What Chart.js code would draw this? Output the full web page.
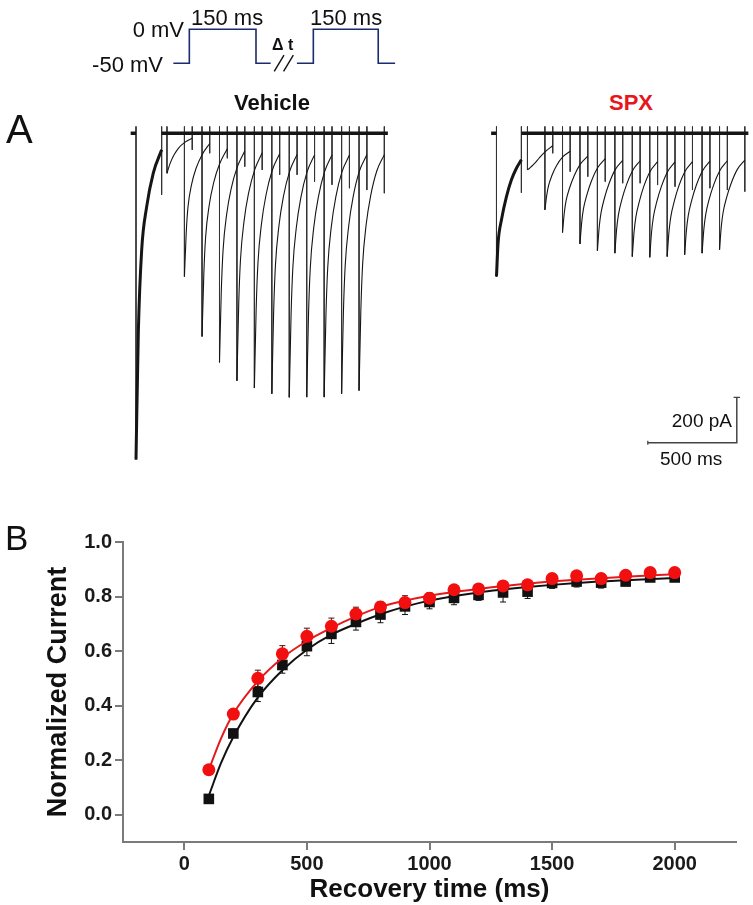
<!DOCTYPE html>
<html>
<head>
<meta charset="utf-8">
<title>Recovery from inactivation</title>
<script src="https://cdn.jsdelivr.net/npm/chart.js@4.4.1/dist/chart.umd.min.js"></script>
<style>
  body { margin: 0; background: #fff; }
  #wrap { position: relative; width: 753px; height: 905px; overflow: hidden;
          font-family: Arial, "Liberation Sans", sans-serif; color: #111; }
  canvas, .lbl { position: absolute; }
  .lbl { line-height: 1; white-space: nowrap; }
</style>
</head>
<body>
<div id="wrap">
  <canvas id="protoChart" width="240" height="65" style="left:160px;top:15px"></canvas>
  <canvas id="traceChart" width="753" height="360" style="left:0;top:115px"></canvas>
  <canvas id="recoveryChart" width="753" height="405" style="left:0;top:500px"></canvas>

  <div class="lbl" style="font-size:22px;right:569px;top:19px">0 mV</div>
  <div class="lbl" style="font-size:22px;right:590px;top:54px">-50 mV</div>
  <div class="lbl" style="font-size:22px;left:191px;top:7px">150 ms</div>
  <div class="lbl" style="font-size:22px;left:310px;top:7px">150 ms</div>
  <div class="lbl" style="font-size:16px;font-weight:bold;left:272px;top:37px">&Delta; t</div>
  <div class="lbl" style="font-size:22px;font-weight:bold;left:272px;top:92px;transform:translateX(-50%)">Vehicle</div>
  <div class="lbl" style="font-size:22px;font-weight:bold;left:631px;top:92px;transform:translateX(-50%);color:#e8151b">SPX</div>
  <div class="lbl" style="font-size:40px;left:6px;top:109px">A</div>
  <div class="lbl" style="font-size:35px;left:5px;top:520px">B</div>
  <div class="lbl" style="font-size:19px;right:21px;top:411px">200 pA</div>
  <div class="lbl" style="font-size:19px;left:660px;top:449px">500 ms</div>
</div>

<script>
// ---------- panel A: voltage protocol (schematic, ms / mV) ----------
const protoTime1 = [-36, 0, 0, 150, 150, 183];
const protoTime2 = [242, 279, 279, 425, 425, 463];
const protoVolt = [-50, -50, 0, 0, -50, -50];
const breakTime = [[191, 213], [212, 234]];
const breakVolt = [-62, -38];

// ---------- panel A: current traces (ms / pA) ----------
// onset of the test pulse in each sweep, measured from the conditioning pulse onset
const sweepOnsets = [174, 272, 371, 469, 567, 665, 763, 861, 959, 1057, 1155, 1253];
// times within a test pulse at which the current was read
const decayOffsets = [0, 10, 20, 40, 65, 100, 142];
const baselineEnd = 1415;
const transientTop = 30;

const vehPulse1Time = [0, 13, 32, 60, 97, 144];
const vehPulse1Curr = [-1437, -878, -513, -323, -175, -73];
const vehPulse1Tail = -271;
const vehDecays = [
  [-176, -150, -128, -95, -65, -40, -22],
  [-631, -440, -325, -226, -155, -93, -45],
  [-895, -620, -458, -318, -218, -132, -68],
  [-1009, -698, -516, -358, -246, -148, -78],
  [-1090, -752, -556, -387, -265, -160, -86],
  [-1122, -774, -572, -398, -273, -164, -90],
  [-1147, -792, -585, -407, -279, -168, -93],
  [-1163, -802, -593, -413, -283, -170, -95],
  [-1162, -801, -593, -412, -282, -170, -95],
  [-1162, -801, -592, -412, -282, -170, -96],
  [-1147, -791, -585, -407, -279, -167, -95],
  [-1133, -782, -578, -402, -276, -165, -94]
];
const vehTails = [-73, -88, -110, -147, -161, -183, -183, -213, -227, -242, -250, -264];

const spxShift = 2025;   // SPX traces sit to the right of the vehicle ones
const spxPulse1Time = [0, 9, 28, 56, 84, 112, 140];
const spxPulse1Curr = [-631, -484, -381, -279, -205, -154, -117];
const spxPulse1Tail = -262;
const spxDecays = [
  [-161, -155, -148, -133, -110, -81, -55],
  [-337, -275, -232, -185, -143, -104, -79],
  [-437, -350, -297, -240, -188, -136, -101],
  [-487, -390, -331, -268, -209, -151, -112],
  [-517, -414, -352, -284, -222, -160, -119],
  [-528, -422, -359, -290, -227, -164, -121],
  [-543, -434, -369, -299, -233, -168, -125],
  [-546, -437, -371, -300, -235, -169, -126],
  [-543, -434, -369, -299, -233, -168, -125],
  [-535, -428, -364, -294, -230, -166, -123],
  [-528, -422, -359, -290, -227, -164, -121],
  [-513, -410, -349, -282, -221, -159, -118]
];
const spxTails = [-88, -169, -191, -213, -220, -220, -228, -235, -250, -242, -250, -257];

// scale bar: lower-left corner (ms, pA) and lengths
const scaleBarX = 2875, scaleBarY = -1363;
const scaleBarTime = 500, scaleBarCurr = 200;

// ---------- panel B: recovery from inactivation ----------
const recoveryTimes = [100, 200, 300, 400, 500, 600, 700, 800, 900, 1000,
                       1100, 1200, 1300, 1400, 1500, 1600, 1700, 1800, 1900, 2000];
const vehicleMean = [0.058, 0.298, 0.45, 0.549, 0.618, 0.663, 0.707, 0.734, 0.764, 0.78,
                     0.795, 0.806, 0.815, 0.818, 0.85, 0.855, 0.851, 0.855, 0.87, 0.87];
const vehicleSem = [0.01, 0.015, 0.035, 0.03, 0.035, 0.035, 0.03, 0.03, 0.03, 0.025,
                    0.025, 0.02, 0.035, 0.025, 0.02, 0.02, 0.02, 0.015, 0.015, 0.015];
const spxMean = [0.165, 0.369, 0.5, 0.59, 0.654, 0.691, 0.736, 0.762, 0.778, 0.794,
                 0.825, 0.828, 0.839, 0.843, 0.866, 0.876, 0.866, 0.878, 0.888, 0.888];
const spxSem = [0.01, 0.015, 0.03, 0.03, 0.03, 0.03, 0.025, 0.02, 0.025, 0.02,
                0.015, 0.015, 0.015, 0.015, 0.015, 0.015, 0.01, 0.01, 0.01, 0.01];
const fitTimes = [100, 150, 200, 300, 400, 500, 600, 700, 800, 900, 1000, 1200, 1400, 1600, 1800, 2000];
const vehicleFit = [0.07, 0.19, 0.285, 0.43, 0.53, 0.605, 0.66, 0.70, 0.735, 0.763, 0.785, 0.815, 0.835, 0.85, 0.86, 0.868];
const spxFit = [0.165, 0.28, 0.37, 0.49, 0.575, 0.637, 0.685, 0.727, 0.762, 0.785, 0.803, 0.828, 0.848, 0.862, 0.873, 0.882];
const xTickValues = [0, 500, 1000, 1500, 2000];
const yTickValues = [0, 0.2, 0.4, 0.6, 0.8, 1.0];

// ---------- helpers ----------
const xy = (xs, ys, shift = 0) => xs.map((x, k) => ({ x: x + shift, y: ys[k] }));
const line = (data, color, width) => ({
  data, showLine: true, pointRadius: 0, borderColor: color, borderWidth: width, fill: false
});
const curve = (data, color, width) => ({ ...line(data, color, width), cubicInterpolationMode: 'monotone' });
const hiddenAxis = (min, max) => ({ type: 'linear', display: false, min, max });

function sweepSets(shift, p1Time, p1Curr, p1Tail, decays, tails) {
  const ink = '#151515';
  const sets = [];
  const p1End = p1Time[p1Time.length - 1];
  const pulseEnd = decayOffsets[decayOffsets.length - 1];
  // holding level before the conditioning pulse and the overlaid baselines after it
  sets.push(line([{ x: shift - 30, y: 0 }, { x: shift, y: 0 }], ink, 3.5));
  sets.push(line([{ x: shift + p1End, y: 0 }, { x: shift + baselineEnd, y: 0 }], ink, 3.5));
  // conditioning pulse is identical in every sweep, so it looks thick
  sets.push(curve(xy(p1Time, p1Curr, shift), ink, 3));

  // vertical strokes: onset spikes and offset transients
  const strokes = [];
  const stroke = (t, bottom) => strokes.push({ x: t, y: transientTop }, { x: t, y: bottom }, { x: t, y: null });
  stroke(shift, p1Curr[0]);
  stroke(shift + p1End, p1Tail);
  sweepOnsets.forEach((t0, k) => {
    stroke(shift + t0, decays[k][0]);
    stroke(shift + t0 + pulseEnd, tails[k]);
    sets.push(curve(xy(decayOffsets, decays[k], shift + t0), ink, 1.1));
  });
  sets.push(line(strokes, '#333', 1));
  return sets;
}

// ---------- protocol ----------
new Chart(document.getElementById('protoChart'), {
  type: 'scatter',
  data: {
    datasets: [
      line(xy(protoTime1, protoVolt), '#1c2a70', 1.6),
      line(xy(protoTime2, protoVolt), '#1c2a70', 1.6),
      line(xy(breakTime[0], breakVolt), '#111', 1.4),
      line(xy(breakTime[1], breakVolt), '#111', 1.4)
    ]
  },
  options: {
    responsive: false, animation: false, events: [],
    plugins: { legend: { display: false }, tooltip: { enabled: false } },
    scales: { x: hiddenAxis(-66, 474), y: hiddenAxis(-74.6, 21) }
  }
});

// ---------- current traces ----------
const scaleBar = [
  { x: scaleBarX, y: scaleBarY },
  { x: scaleBarX + scaleBarTime, y: scaleBarY },
  { x: scaleBarX + scaleBarTime, y: scaleBarY + scaleBarCurr }
];
const scaleBarEnds = [
  { x: scaleBarX, y: scaleBarY + 9 }, { x: scaleBarX, y: scaleBarY - 9 }, { x: scaleBarX, y: null },
  { x: scaleBarX + scaleBarTime - 18, y: scaleBarY + scaleBarCurr },
  { x: scaleBarX + scaleBarTime + 18, y: scaleBarY + scaleBarCurr }
];

new Chart(document.getElementById('traceChart'), {
  type: 'scatter',
  data: {
    datasets: [
      ...sweepSets(0, vehPulse1Time, vehPulse1Curr, vehPulse1Tail, vehDecays, vehTails),
      ...sweepSets(spxShift, spxPulse1Time, spxPulse1Curr, spxPulse1Tail, spxDecays, spxTails),
      line(scaleBar, '#444', 1.5),
      line(scaleBarEnds, '#444', 1.2)
    ]
  },
  options: {
    responsive: false, animation: false, events: [],
    plugins: { legend: { display: false }, tooltip: { enabled: false } },
    scales: { x: hiddenAxis(-764, 3466), y: hiddenAxis(-1505, 80.5) }
  }
});

// ---------- recovery plot ----------
const errorBarPlugin = {
  id: 'errorBars',
  beforeDatasetsDraw(chart) {
    const { ctx } = chart;
    const yScale = chart.scales.y;
    chart.data.datasets.forEach((ds, i) => {
      if (!ds.errorBars) return;
      const meta = chart.getDatasetMeta(i);
      ctx.save();
      ctx.strokeStyle = ds.errorColor;
      ctx.lineWidth = 1;
      meta.data.forEach((pt, k) => {
        const v = ds.data[k].y, e = ds.errorBars[k];
        const top = yScale.getPixelForValue(v + e);
        const bot = yScale.getPixelForValue(v - e);
        ctx.beginPath();
        ctx.moveTo(pt.x, top); ctx.lineTo(pt.x, bot);
        ctx.moveTo(pt.x - 3, top); ctx.lineTo(pt.x + 3, top);
        ctx.moveTo(pt.x - 3, bot); ctx.lineTo(pt.x + 3, bot);
        ctx.stroke();
      });
      ctx.restore();
    });
  }
};

const axisGrey = '#7a7a7a';
const tickFont = { family: 'Arial, "Liberation Sans", sans-serif', size: 20, weight: 'bold' };

new Chart(document.getElementById('recoveryChart'), {
  type: 'scatter',
  data: {
    datasets: [
      {
        label: 'SPX', data: xy(recoveryTimes, spxMean), errorBars: spxSem, errorColor: '#5a0a0a',
        pointStyle: 'circle', pointRadius: 6.5, backgroundColor: '#f20f0f', borderColor: '#f20f0f', borderWidth: 0
      },
      { label: 'SPX fit', ...curve(xy(fitTimes, spxFit), '#e3191b', 2) },
      {
        label: 'Vehicle', data: xy(recoveryTimes, vehicleMean), errorBars: vehicleSem, errorColor: '#111',
        pointStyle: 'rect', pointRadius: 7.5, backgroundColor: '#111', borderColor: '#111', borderWidth: 0
      },
      { label: 'Vehicle fit', ...curve(xy(fitTimes, vehicleFit), '#111', 2) }
    ]
  },
  options: {
    responsive: false, animation: false, events: [],
    layout: { padding: { top: 42, right: 17, left: 0, bottom: 0 } },
    plugins: { legend: { display: false }, tooltip: { enabled: false } },
    scales: {
      x: {
        type: 'linear', min: -250, max: 2250,
        afterBuildTicks: (s) => { s.ticks = xTickValues.map((v) => ({ value: v })); },
        afterFit: (s) => { s.height = 63; },
        grid: { drawOnChartArea: false, drawTicks: true, tickLength: 8, color: axisGrey, lineWidth: 2 },
        border: { color: axisGrey, width: 2 },
        ticks: { color: '#1a1a1a', font: tickFont, padding: 2, maxRotation: 0, callback: (v) => String(v) },
        title: {
          display: true, text: 'Recovery time (ms)', color: '#111',
          font: { family: 'Arial, "Liberation Sans", sans-serif', size: 26, weight: 'bold' },
          padding: { top: 0, bottom: 0 }
        }
      },
      y: {
        type: 'linear', min: -0.1, max: 1.0,
        afterBuildTicks: (s) => { s.ticks = yTickValues.map((v) => ({ value: v })); },
        afterFit: (s) => { s.width = 123; },
        grid: { drawOnChartArea: false, drawTicks: true, tickLength: 8, color: axisGrey, lineWidth: 2 },
        border: { color: axisGrey, width: 2 },
        ticks: { color: '#1a1a1a', font: tickFont, padding: 3, callback: (v) => Number(v).toFixed(1) },
        title: {
          display: true, text: 'Normalized Current', color: '#111',
          font: { family: 'Arial, "Liberation Sans", sans-serif', size: 27, weight: 'bold' },
          padding: { top: 42, bottom: 4 }
        }
      }
    }
  },
  plugins: [errorBarPlugin]
});
</script>
</body>
</html>
